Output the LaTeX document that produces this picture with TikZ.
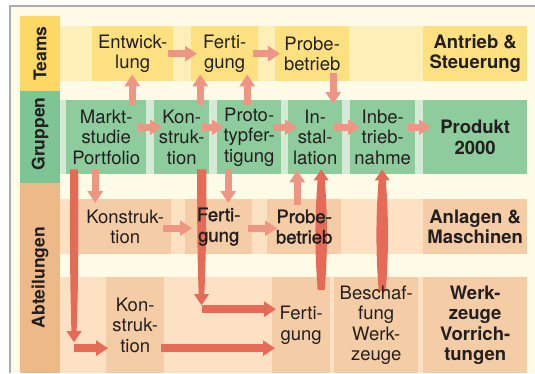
\documentclass[tikz,border=0pt]{standalone}
\usepackage{fontspec}
\setmainfont{TeX Gyre Heros}
\newfontfamily\mediumface[FakeBold=1.6]{TeX Gyre Heros}
\usetikzlibrary{calc,arrows.meta}

\definecolor{paper}{HTML}{FFFBE7}
\definecolor{frameline}{HTML}{A9ABAE}
\definecolor{ink}{HTML}{231F20}
\definecolor{teamCol}{HTML}{FDD865}
\definecolor{teamBand}{HTML}{FEEFB8}
\definecolor{teamBox}{HTML}{FDE07F}
\definecolor{grpCol}{HTML}{7DC594}
\definecolor{grpBand}{HTML}{D4EAD5}
\definecolor{grpBox}{HTML}{8ECC9D}
\definecolor{abtCol}{HTML}{EDB988}
\definecolor{abtBand}{HTML}{FCE2C3}
\definecolor{abtBox}{HTML}{F4CCA6}
\definecolor{liteArrow}{HTML}{EE9583}
\definecolor{deepArrow}{HTML}{E56B58}

\pgfdeclarelayer{background}
\pgfdeclarelayer{arrows}
\pgfsetlayers{background,arrows,main}

\tikzset{
  box/.style={inner sep=0pt, anchor=north west, align=center, text=ink,
    font=\fontsize{18.5}{20.5}\selectfont},
  mediumbox/.style={box, font=\fontsize{18.5}{20.5}\selectfont\mediumface},
  boldbox/.style={box, font=\fontsize{18.5}{20.5}\selectfont\bfseries},
  rowlabel/.style={rotate=90, inner sep=0pt, text=ink,
    font=\fontsize{17.5}{20}\selectfont\bfseries},
  lite/.style={draw=liteArrow, line width=7pt,
    -{Triangle[width=15pt,length=12pt]}},
  deep/.style={draw=deepArrow, line width=7.5pt,
    -{Triangle[width=15pt,length=12pt]}},
}

% vertical tapered arrow: tail, tip, tail half-width, middle half-width, neck half-width
\newcommand\spindle[5]{%
  \fill[deepArrow] let \p1=(#1), \p2=($(#2)!11pt!(#1)$), \p3=(#2) in
    (\x1-#3,\y1)
    .. controls (\x1-#4,{\y1+(\y2-\y1)/3}) and (\x1-#4,{\y1+2*(\y2-\y1)/3}) .. (\x2-#5,\y2)
    -- (\x2-7.5pt,\y2) -- (\x3,\y3) -- (\x2+7.5pt,\y2) -- (\x2+#5,\y2)
    .. controls (\x1+#4,{\y1+2*(\y2-\y1)/3}) and (\x1+#4,{\y1+(\y2-\y1)/3}) .. (\x1+#3,\y1)
    -- cycle;}

\begin{document}
\begin{tikzpicture}[x=1pt,y=-1pt]
\useasboundingbox (0,0) rectangle (535,373);

% ---------- boxes with their texts ----------
% Teams
\node[box, minimum width=81pt, minimum height=55pt] (tEnt)   at (92,26)  {Entwick-\\lung};
\node[box, minimum width=67pt, minimum height=55pt] (tFert)  at (191,26) {Ferti-\\gung};
\node[box, minimum width=74pt, minimum height=55pt] (tProbe) at (275,26) {Probe-\\betrieb};
\node[boldbox, minimum width=104pt, minimum height=55pt] (tAntr) at (423,26) {Antrieb \&\\Steuerung};
% Gruppen
\node[box, minimum width=80pt, minimum height=74pt] (gMarkt) at (66,100)  {Markt-\\studie\\Portfolio};
\node[box, minimum width=55pt, minimum height=74pt] (gKon)   at (154,100) {Kon-\\struk-\\tion};
\node[box, minimum width=64pt, minimum height=74pt] (gProto) at (217,100) {Proto-\\typfer-\\tigung};
\node[box, minimum width=54pt, minimum height=74pt] (gInst)  at (288,100) {In-\\stal-\\lation};
\node[box, minimum width=65pt, minimum height=74pt] (gInbe)  at (350,100) {Inbe-\\trieb-\\nahme};
\node[boldbox, minimum width=104pt, minimum height=74pt] (gProd) at (423,100) {Produkt\\2000};
% Abteilungen, upper row
\node[box, minimum width=92pt, minimum height=55pt] (aKon)   at (79,199)  {Konstruk-\\tion};
\node[mediumbox, minimum width=67pt, minimum height=55pt] (aFert)  at (185,199) {Ferti-\\gung};
\node[mediumbox, minimum width=74pt, minimum height=55pt] (aProbe) at (267,199) {Probe-\\betrieb};
\node[boldbox, minimum width=104pt, minimum height=55pt] (aAnl) at (423,199) {Anlagen \&\\Maschinen};
% Abteilungen, lower row
\node[box, minimum width=58pt, minimum height=96pt] (bKon)   at (106,277) {Kon-\\struk-\\tion};
\node[box, minimum width=58pt, minimum height=96pt] (bFert)  at (272,277) {Ferti-\\gung};
\node[box, minimum width=84pt, minimum height=96pt] (bBesch) at (334,277) {Beschaf-\\fung\\Werk-\\zeuge};
\node[boldbox, minimum width=104pt, minimum height=96pt] (bWerk) at (423,277) {Werk-\\zeuge\\Vorrich-\\tungen};

% row labels
\node[rowlabel] (labTeams) at (40,53.5)  {Teams};
\node[rowlabel] (labGrp)   at (40,134)   {Gruppen};
\node[rowlabel] (labAbt)   at (40,277.5) {Abteilungen};

% ---------- backdrop, bands and box fills ----------
\begin{pgfonlayer}{background}
  \fill[white] (0,0) rectangle (535,373);
  \fill[paper] (10.3,5.8) rectangle (535,373);
  \draw[frameline, line width=1.8pt] (10.3,373) -- (10.3,5.8) -- (535,5.8);
  % row label columns
  \fill[teamCol] (20,16)  rectangle (60,91);
  \fill[grpCol]  (20,91)  rectangle (60,183);
  \fill[abtCol]  (20,183) rectangle (60,373);
  % bands
  \fill[teamBand] (60,26)  rectangle (527,81);
  \fill[grpBand]  (60,100) rectangle (527,174);
  \fill[abtBand]  (60,199) rectangle (527,254);
  \fill[abtBand]  (60,277) rectangle (527,373);
  % box fills
  \foreach \n in {tEnt,tFert,tProbe,tAntr}
    \fill[teamBox] (\n.north west) rectangle (\n.south east);
  \foreach \n in {gMarkt,gKon,gProto,gInst,gInbe,gProd}
    \fill[grpBox] (\n.north west) rectangle (\n.south east);
  \foreach \n in {aKon,aFert,aProbe,aAnl,bKon,bFert,bBesch,bWerk}
    \fill[abtBox] (\n.north west) rectangle (\n.south east);
\end{pgfonlayer}

% ---------- connectors ----------
\begin{pgfonlayer}{arrows}
  % light arrows
  \draw[lite] ($(tEnt.east)+(-5,0)$)     -- ($(tFert.west)+(6,0)$);
  \draw[lite] ($(tFert.east)+(-5,0)$)    -- ($(tProbe.west)+(5,0)$);
  \draw[lite] ($(tProbe.south)+(21,-8)$) -- ($(gInst.north)+(18,4)$);
  \draw[lite] ($(gMarkt.north)+(26,5)$)  -- ($(tEnt.south)+(-0.5,-7)$);
  \draw[lite] ($(gKon.north)+(18.5,5)$)  -- ($(tFert.south)+(-24.5,-7)$);
  \draw[lite] ($(gProto.north)+(-2,5)$)  -- ($(tFert.south)+(22.5,-7)$);
  \draw[lite] ($(gMarkt.east)+(-8,-10)$) -- ($(gKon.west)+(8,-10)$);
  \draw[lite] ($(gKon.east)+(-7,-10)$)   -- ($(gProto.west)+(7,-10)$);
  \draw[lite] ($(gProto.east)+(-8,-10)$) -- ($(gInst.west)+(9,-10)$);
  \draw[lite] ($(gInst.east)+(-8,-10)$)  -- ($(gInbe.west)+(10,-10)$);
  \draw[lite] ($(gInbe.east)+(-7,-10)$)  -- ($(gProd.west)+(8,-10)$);
  \draw[lite] ($(gMarkt.south)+(-11,-5)$) -- ($(aKon.north)+(-30,4)$);
  \draw[lite] ($(gProto.south)+(-21,-5)$) -- ($(aFert.north)+(9.5,4)$);
  \draw[lite] ($(aKon.east)+(-8,1.5)$)   -- ($(aFert.west)+(7,1.5)$);
  \draw[lite] ($(aFert.east)+(-4,1.5)$)  -- ($(aProbe.west)+(10,1.5)$);
  \draw[lite] ($(aProbe.north)+(-7,6)$)  -- ($(gInst.south)+(-18,-4)$);

  % long tapered arrows
  \coordinate (d1a) at ($(gMarkt.south)+(-32,-5)$);
  \coordinate (d1b) at ($(bKon.west)+(-32,17)$);
  \spindle{d1a}{d1b}{4pt}{4.4pt}{2.6pt}
  \coordinate (d2a) at ($(bKon.west)+(-32,23)$);
  \draw[deep] (d2a) -- ($(bKon.west)+(2,23)$);
  \draw[deep] ($(bKon.east)+(-3,23)$) -- ($(bFert.west)+(3,23)$);

  \coordinate (d4a) at ($(gKon.south)+(20,-5)$);
  \coordinate (d4b) at ($(bFert.west)+(-70.5,-20)$);
  \spindle{d4a}{d4b}{4.6pt}{4.6pt}{2.8pt}
  \coordinate (d5a) at ($(bFert.west)+(-70.5,-16)$);
  \draw[deep] (d5a) -- ($(bFert.west)+(4,-16)$);

  \coordinate (d6a) at ($(bFert.north)+(20,13)$);
  \coordinate (d6b) at ($(gInst.south)+(6,-5)$);
  \spindle{d6a}{d6b}{3.5pt}{6.5pt}{3.6pt}
  \coordinate (d7a) at ($(bBesch.north)+(6,14)$);
  \coordinate (d7b) at ($(gInbe.south)+(-0.5,-5)$);
  \spindle{d7a}{d7b}{3.5pt}{6.5pt}{3.6pt}
\end{pgfonlayer}
\end{tikzpicture}
\end{document}
